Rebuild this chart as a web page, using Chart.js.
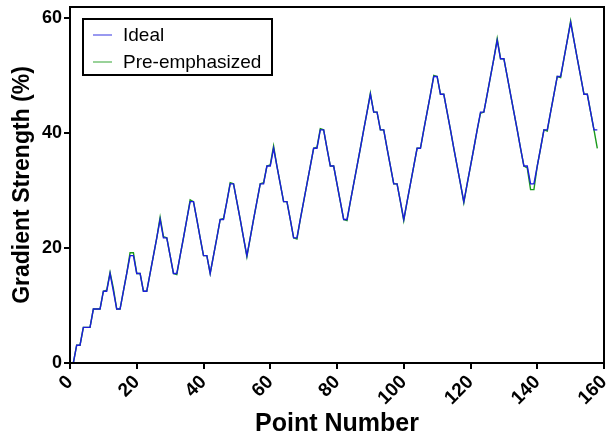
<!DOCTYPE html>
<html>
<head>
<meta charset="utf-8">
<script src="https://cdn.jsdelivr.net/npm/chart.js@4.4.0/dist/chart.umd.min.js"></script>
<style>
  html, body { margin: 0; padding: 0; background: #fff; }
  #wrap { width: 606px; height: 441px; }
</style>
</head>
<body>
<div id="wrap"><canvas id="c" width="606" height="441"></canvas></div>
<script>
// values, point numbers start at 1
const firstPoint = 1;
const seriesNames = ['Ideal', 'Pre-emphasized'];
const xTicks = [0, 20, 40, 60, 80, 100, 120, 140, 160];
const yTicks = [0, 20, 40, 60];

const ideal = [
  0, 3.1, 3.1, 6.2, 6.2, 6.2, 9.4, 9.4, 9.4, 12.5,
  12.5, 15.6, 12.5, 9.4, 9.4, 12.5, 15.6, 18.7, 18.7, 15.6,
  15.6, 12.5, 12.5, 15.6, 18.7, 21.8, 25.0, 21.8, 21.8, 18.7,
  15.6, 15.6, 18.7, 21.8, 25.0, 28.1, 28.1, 25.0, 21.8, 18.7,
  18.7, 15.6, 18.7, 21.8, 25.0, 25.0, 28.1, 31.2, 31.2, 28.1,
  25.0, 21.8, 18.7, 21.8, 25.0, 28.1, 31.2, 31.2, 34.3, 34.3,
  37.4, 34.3, 31.2, 28.1, 28.1, 25.0, 21.8, 21.8, 25.0, 28.1,
  31.2, 34.3, 37.4, 37.4, 40.6, 40.6, 37.4, 34.3, 34.3, 31.2,
  28.1, 25.0, 25.0, 28.1, 31.2, 34.3, 37.4, 40.6, 43.7, 46.8,
  43.7, 43.7, 40.6, 40.6, 37.4, 34.3, 31.2, 31.2, 28.1, 25.0,
  28.1, 31.2, 34.3, 37.4, 37.4, 40.6, 43.7, 46.8, 49.9, 49.9,
  46.8, 46.8, 43.7, 40.6, 37.4, 34.3, 31.2, 28.1, 31.2, 34.3,
  37.4, 40.6, 43.7, 43.7, 46.8, 49.9, 53.0, 56.2, 53.0, 53.0,
  49.9, 46.8, 43.7, 40.6, 37.4, 34.3, 34.3, 31.2, 31.2, 34.3,
  37.4, 40.6, 40.6, 43.7, 46.8, 49.9, 49.9, 53.0, 56.2, 59.3,
  56.2, 53.0, 49.9, 46.8, 46.8, 43.7, 40.6, 40.6
];

const preEmphasized = [
  0, 3.1, 3.1, 6.2, 6.2, 6.2, 9.4, 9.4, 9.4, 12.5,
  12.7, 15.8, 13.0, 9.4, 9.4, 12.5, 15.6, 19.2, 19.2, 15.6,
  15.6, 12.5, 12.5, 15.6, 18.7, 21.8, 25.4, 22.0, 21.8, 18.7,
  15.6, 15.4, 18.7, 21.8, 25.0, 28.4, 28.1, 25.0, 21.8, 18.7,
  18.7, 15.6, 18.7, 21.8, 25.0, 25.2, 28.1, 31.4, 31.2, 28.1,
  25.0, 21.8, 18.5, 21.8, 25.0, 28.1, 31.2, 31.4, 34.3, 34.5,
  37.8, 34.3, 31.2, 28.1, 28.1, 25.0, 21.8, 21.6, 25.0, 28.1,
  31.2, 34.3, 37.4, 37.6, 40.8, 40.6, 37.4, 34.3, 34.3, 31.2,
  28.1, 25.0, 24.8, 28.1, 31.2, 34.3, 37.4, 40.6, 43.7, 47.0,
  43.7, 43.7, 40.6, 40.6, 37.4, 34.3, 31.2, 31.2, 28.1, 24.8,
  28.1, 31.2, 34.3, 37.4, 37.4, 40.6, 43.7, 46.8, 50.1, 49.9,
  46.8, 46.8, 43.7, 40.6, 37.4, 34.3, 31.2, 27.9, 31.2, 34.3,
  37.4, 40.6, 43.5, 43.7, 46.8, 49.9, 53.0, 56.5, 53.0, 53.0,
  49.9, 46.8, 43.7, 40.6, 37.4, 34.3, 34.0, 30.2, 30.2, 34.3,
  37.4, 40.6, 40.4, 43.7, 46.8, 49.9, 49.7, 53.0, 56.2, 59.6,
  56.2, 53.0, 49.9, 46.8, 46.8, 43.7, 40.6, 37.4
];

const FONT = '"Liberation Sans", Arial, sans-serif';
const lineColors = ['#1c1cdc', '#1a9a1a'];

function toPoints(values) {
  return values.map((v, i) => ({ x: i + firstPoint, y: v }));
}

// box round the plot area, like the original axes frame
const framePlugin = {
  id: 'frame',
  afterDatasetsDraw(chart) {
    const a = chart.chartArea, ctx = chart.ctx;
    ctx.save();
    ctx.strokeStyle = '#000';
    ctx.lineWidth = 2;
    ctx.strokeRect(a.left, a.top, a.right - a.left, a.bottom - a.top);
    ctx.restore();
  }
};

// legend box drawn inside the plot, top-left
const boxLegend = {
  id: 'boxLegend',
  afterDraw(chart) {
    const a = chart.chartArea, ctx = chart.ctx;
    const x0 = a.left + 13, y0 = a.top + 12, w = 189, h = 56;
    ctx.save();
    ctx.fillStyle = '#fff';
    ctx.fillRect(x0, y0, w, h);
    ctx.strokeStyle = '#000';
    ctx.lineWidth = 2;
    ctx.strokeRect(x0, y0, w, h);
    ctx.font = '19px ' + FONT;
    ctx.textBaseline = 'middle';
    chart.data.datasets.forEach((ds, i) => {
      const yy = y0 + 16 + i * 27;
      ctx.strokeStyle = ds.borderColor;
      ctx.globalAlpha = 0.6;
      ctx.lineWidth = 1.5;
      ctx.beginPath();
      ctx.moveTo(x0 + 10, yy);
      ctx.lineTo(x0 + 29, yy);
      ctx.stroke();
      ctx.globalAlpha = 1;
      ctx.fillStyle = '#000';
      ctx.fillText(ds.label, x0 + 40, yy + 1);
    });
    ctx.restore();
  }
};

new Chart(document.getElementById('c'), {
  type: 'line',
  data: {
    datasets: [
      { label: seriesNames[0], data: toPoints(ideal), borderColor: lineColors[0], borderWidth: 1.4 },
      { label: seriesNames[1], data: toPoints(preEmphasized), borderColor: lineColors[1], borderWidth: 1.4 }
    ]
  },
  options: {
    responsive: false,
    animation: false,
    layout: { padding: { top: 7, right: 2, left: 0, bottom: 0 } },
    elements: { point: { radius: 0 }, line: { tension: 0 } },
    plugins: { legend: { display: false }, tooltip: { enabled: false } },
    scales: {
      x: {
        type: 'linear', min: 0, max: 160,
        afterBuildTicks: s => { s.ticks = xTicks.map(v => ({ value: v })); },
        afterFit: s => { s.height = 78; s.paddingLeft = 0; s.paddingRight = 0; },
        ticks: { minRotation: 45, maxRotation: 45, color: '#000', padding: 2,
                 font: { family: FONT, size: 19, weight: 'bold' } },
        grid: { drawOnChartArea: false, drawTicks: true, tickLength: 6, color: '#000', lineWidth: 2 },
        border: { color: '#000', width: 2 },
        title: { display: true, text: 'Point Number', color: '#000',
                 font: { family: FONT, size: 25, weight: 'bold' }, padding: { top: 0, bottom: 2 } }
      },
      y: {
        type: 'linear', min: 0, max: 62,
        afterBuildTicks: s => { s.ticks = yTicks.map(v => ({ value: v })); },
        afterFit: s => { s.width = 70; s.paddingTop = 0; s.paddingBottom = 0; },
        ticks: { color: '#000', padding: 2, font: { family: FONT, size: 18, weight: 'bold' } },
        grid: { drawOnChartArea: false, drawTicks: true, tickLength: 6, color: '#000', lineWidth: 2 },
        border: { color: '#000', width: 2 },
        title: { display: true, text: 'Gradient Strength (%)', color: '#000',
                 font: { family: FONT, size: 23, weight: 'bold' }, padding: { top: 9, bottom: 4 } }
      }
    }
  },
  plugins: [framePlugin, boxLegend]
});
</script>
</body>
</html>
